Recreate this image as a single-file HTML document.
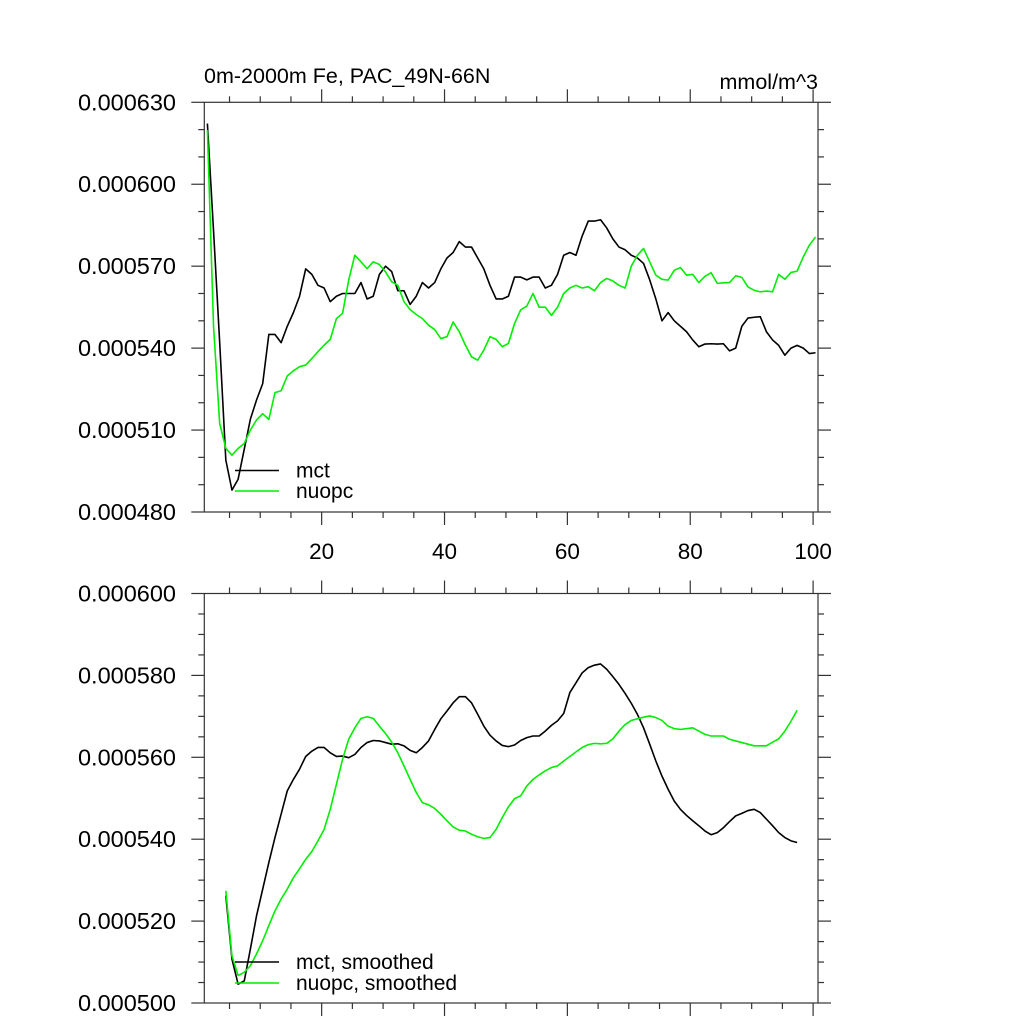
<!DOCTYPE html>
<html><head><meta charset="utf-8"><style>
html,body{margin:0;padding:0;background:#fff;}
svg{display:block;font-family:"Liberation Sans",sans-serif;}
</style></head><body>
<svg id="chart" width="1024" height="1024" viewBox="0 0 1024 1024" xmlns="http://www.w3.org/2000/svg"></svg>
<script>
const years = Array.from({length:100},(_,k)=>k+1);
const mctRaw = [622.2,583,542,499,488,492,503,514,521,527,545,545,542,548,553,559,569,567,563,562,557,559,560,560,560,564,558,559,567,570,568,561,561,556,559,564,562,564,569,573,575,579,577,577,573,569,563,558,558,559,566,566,565,566,566,562,563,567,574,575,574,581,586.5,586.5,587,584,580,577,576,574,573,571,565,558,550,553,550,548,546,543,540.5,541.5,541.6,541.5,541.6,539,540,548,551,551.3,551.5,546,543,541,537.4,540,541,540,538,538.3];
const nuopcRaw = [619.8,548,512.4,503.3,500.8,503.3,505.1,510,513.7,516,513.9,523.7,524.4,529.8,531.7,533.2,533.8,536.2,538.7,541.1,543.2,550.8,552.7,564.9,574,571.6,569.1,571.6,570.6,567.9,564.3,563,557,554.1,552.3,550.8,548.4,546.8,543.5,544.2,549.6,546,541.1,536.8,535.6,539.3,544.2,543.2,540.5,541.7,549,554,555.4,560,555,555,552,555,560,562,563,562,562.5,561,564,565.5,564.6,563,562,570,574,576.5,571.6,566.7,565.2,564.9,568.5,569.5,566.7,567,564,566.3,567.6,563.7,563.9,564,566.5,565.9,562.4,561.2,560.6,560.9,560.6,567,565.2,567.7,568.2,573.4,577.7,580.7];
const smoothYears = Array.from({length:94},(_,k)=>k+4);
const mctSmooth = [526.2,510.7,504.6,505.4,513.2,521.3,527.8,534.3,540.4,546.1,551.8,554.6,557.1,560.2,561.5,562.4,562.4,561.1,560.2,560.3,559.9,560.7,562.4,563.6,564.1,564,563.6,563.2,563.3,562.8,561.7,561.1,562.4,564,566.8,569.4,571.3,573.3,574.8,574.8,573.3,570.5,567.6,565.4,564,562.9,562.6,563,564.1,564.8,565.2,565.2,566.4,567.8,568.9,570.7,575.8,578.2,580.6,581.9,582.5,582.8,581.5,579.7,577.8,575.6,573.2,570.5,567.2,563.2,559.1,555.4,552.2,549.3,547.3,545.8,544.5,543.3,542,541.1,541.6,542.8,544.3,545.7,546.3,547,547.3,546.5,544.9,543.3,541.6,540.4,539.6,539.2];
const nuopcSmooth = [527.4,511.5,506.7,507.5,509.1,512,515.2,518.9,522.5,525.4,527.8,530.6,532.8,535.1,537,539.6,542.4,547.3,553.4,559.5,564.4,567.2,569.5,569.9,569.5,567.6,565.8,563.7,561.1,557.9,554.6,551.4,548.9,548.4,547.5,546.1,544.5,543,542.2,542,541.2,540.6,540.2,540.4,542.4,545.3,547.9,549.9,550.6,553,554.6,555.7,556.7,557.5,557.9,559.1,560.2,561.3,562.4,563.1,563.4,563.3,563.4,564.5,566.4,568,569,569.4,569.8,570.1,569.7,569,567.6,567,566.8,567,567.2,566.4,565.6,565.2,565.2,565.2,564.4,564,563.6,563.2,562.8,562.8,562.8,563.7,564.5,566.4,568.8,571.5];
const xTickVals = [20,40,60,80,100];
const topYTicks = [630,600,570,540,510,480];
const botYTicks = [600,580,560,540,520,500];

const NS="http://www.w3.org/2000/svg";
const svg=document.getElementById('chart');
function el(tag,attrs,parent){const e=document.createElementNS(NS,tag);for(const k in attrs)e.setAttribute(k,attrs[k]);(parent||svg).appendChild(e);return e;}
const L=204.3,R=818;
function xs(v){return 198.8+6.143*(v+0.4);}
function xt(v){return 198.8+6.143*v;}
function makeY(top,bot,vmax,vmin){return v=>top+(vmax-v)/(vmax-vmin)*(bot-top);}

function panel(name,top,bot,vmax,vmin,yTicks,minorStep,labelX,series,legend){
  const y=makeY(top,bot,vmax,vmin);
  const g=el('g',{});
  
  
  const frame=el('rect',{x:L,y:top,width:R-L,height:bot-top,fill:'none',stroke:'#333','stroke-width':1.2},g);
  
  
  for(let v=vmin;v<=vmax+1e-9;v+=minorStep){
    const major=yTicks.some(t=>Math.abs(t-v)<1e-6);
    const len=major?13:6;
    el('line',{x1:L-len,x2:L,y1:y(v),y2:y(v),stroke:'#333','stroke-width':1.2},g);
    el('line',{x1:R,x2:R+len,y1:y(v),y2:y(v),stroke:'#333','stroke-width':1.2},g);
  }
  yTicks.forEach(t=>{
    const tx=el('text',{x:176,y:y(t)+8,'text-anchor':'end','font-size':23.5,fill:'#000'},g);
    tx.textContent=(t/1e6).toFixed(6);
    
    
  });
  for(let v=5;v<=100;v+=5){
    const major=v%20===0;const len=major?13:6;
    el('line',{x1:xt(v),x2:xt(v),y1:top-len,y2:top,stroke:'#333','stroke-width':1.2},g);
    el('line',{x1:xt(v),x2:xt(v),y1:bot,y2:bot+len,stroke:'#333','stroke-width':1.2},g);
  }
  if(labelX){xTickVals.forEach(t=>{
    const tx=el('text',{x:xt(t),y:bot+47,'text-anchor':'middle','font-size':22.5,fill:'#000'},g);
    tx.textContent=t;
    
    
  });}
  series.forEach(s=>{
    const d=s.xs.map((xv,i)=>(i?'L':'M')+xs(xv).toFixed(2)+','+y(s.vals[i]).toFixed(2)).join('');
    const p=el('path',{d:d,fill:'none',stroke:s.color,'stroke-width':1.6,'stroke-linejoin':'round'},g);
    
    
  });
  legend.forEach(l=>{
    const ln=el('line',{x1:235,x2:279,y1:l.y,y2:l.y,stroke:l.color,'stroke-width':1.6},g);
    
    
    const tx=el('text',{x:296,y:l.y+7,'font-size':21,fill:'#000'},g);
    tx.textContent=l.label;
    
    
  });
}
panel('top-panel',102.3,512,630,480,topYTicks,10,true,
  [{name:'mct-line',xs:years,vals:mctRaw,color:'#000'},{name:'nuopc-line',xs:years,vals:nuopcRaw,color:'#00ee00'}],
  [{y:470.5,color:'#000',label:'mct'},{y:491,color:'#00ee00',label:'nuopc'}]);
panel('bottom-panel',593.5,1003,600,500,botYTicks,5,false,
  [{name:'mct-smoothed-line',xs:smoothYears,vals:mctSmooth,color:'#000'},{name:'nuopc-smoothed-line',xs:smoothYears,vals:nuopcSmooth,color:'#00ee00'}],
  [{y:962,color:'#000',label:'mct, smoothed'},{y:983,color:'#00ee00',label:'nuopc, smoothed'}]);
const t1=el('text',{x:204,y:83,'font-size':21.5,fill:'#000'});
t1.textContent='0m-2000m Fe, PAC_49N-66N';


const t2=el('text',{x:818,y:89,'font-size':21.5,fill:'#000','text-anchor':'end'});
t2.textContent='mmol/m^3';


</script>
</body></html>
